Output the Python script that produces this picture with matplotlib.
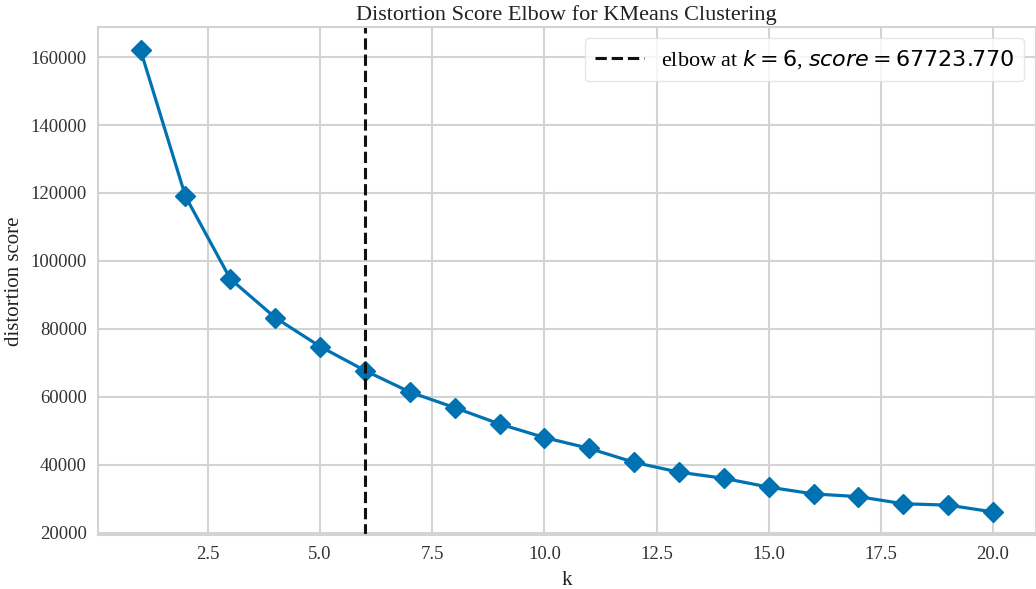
import numpy as np
import matplotlib
matplotlib.use("Agg")
import matplotlib.pyplot as plt

# distortion score per number of clusters
k_values = list(range(1, 21))
distortion = [162000, 119000, 94700, 83300, 74800, 67723.770, 61400, 56800,
              52000, 48000, 44800, 40700, 37800, 36000, 33400, 31400,
              30600, 28500, 28100, 26100]
elbow_k = 6
elbow_score = 67723.770

plt.rcParams["font.family"] = "Liberation Serif"
plt.rcParams["mathtext.fontset"] = "dejavusans"

fig = plt.figure(figsize=(10.36, 5.89), dpi=100)
ax = fig.add_axes([0.0946, 0.0917, 0.905, 0.862])

ax.set_facecolor("white")
ax.grid(True, color="#d3d3d3", linewidth=1.5)
ax.set_axisbelow(True)
for side in ["left", "bottom", "top", "right"]:
    ax.spines[side].set_color("#d3d3d3")
    ax.spines[side].set_linewidth(1.5)
ax.tick_params(length=0, labelsize=13.5, colors="#333333", pad=8)

ax.plot(k_values, distortion, marker="D", color="#0072B2", linewidth=2.3,
        markersize=10)
ax.axvline(elbow_k, color="#111111", linestyle="--", linewidth=2.2,
           label="elbow at $k={}$, $score={:0.3f}$".format(elbow_k, elbow_score))

ax.set_title("Distortion Score Elbow for KMeans Clustering", fontsize=16,
             color="#222222", pad=5)
ax.set_xlabel("k", fontsize=15, color="#222222", labelpad=6)
ax.set_ylabel("distortion score", fontsize=15, color="#222222", labelpad=5)
leg = ax.legend(loc="upper right", fontsize=16, frameon=True, fancybox=True,
                framealpha=0.8, borderpad=0.45, handlelength=2.2)
leg.get_frame().set_edgecolor("#e0e0e0")

fig.savefig("out.png", dpi=100)
